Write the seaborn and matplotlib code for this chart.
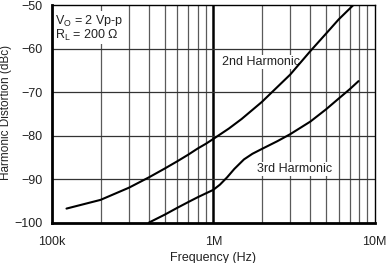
import numpy as np
import pandas as pd
import matplotlib
matplotlib.use("Agg")
import matplotlib.pyplot as plt
import seaborn as sns
from matplotlib.ticker import FixedLocator, NullFormatter

sns.set_style("white")
plt.rcParams['font.family'] = ['Liberation Sans', 'DejaVu Sans']
plt.rcParams['mathtext.fontset'] = 'custom'
plt.rcParams['mathtext.rm'] = 'Liberation Sans'

freq_h2 = [123e3, 200e3, 300e3, 400e3, 500e3, 600e3, 700e3, 800e3, 900e3, 1e6,
           1.25e6, 1.5e6, 2e6, 3e6, 4e6, 5e6, 6e6, 7.4e6]
dist_h2 = [-96.8, -94.8, -92.0, -89.6, -87.6, -85.9, -84.4, -83.0, -81.9, -80.8,
           -78.4, -76.2, -72.3, -66.0, -60.6, -56.6, -53.3, -50.0]

freq_h3 = [400e3, 500e3, 600e3, 700e3, 800e3, 900e3, 1e6, 1.1e6, 1.22e6, 1.35e6,
           1.55e6, 1.75e6, 2e6, 2.5e6, 3e6, 4e6, 5e6, 6e6, 7e6, 7.96e6]
dist_h3 = [-100.0, -98.2, -96.6, -95.3, -94.2, -93.3, -92.5, -91.3, -89.6, -87.7,
           -85.5, -84.2, -83.1, -81.3, -79.7, -76.8, -74.0, -71.5, -69.4, -67.5]

x_ticks = [1e5, 1e6, 1e7]
x_labels = ["100k", "1M", "10M"]
y_ticks = [-100, -90, -80, -70, -60, -50]

df = pd.concat([
    pd.DataFrame({"f": freq_h2, "d": dist_h2, "s": "2nd"}),
    pd.DataFrame({"f": freq_h3, "d": dist_h3, "s": "3rd"}),
])

fig = plt.figure(figsize=(3.86, 2.63), dpi=100)
ax = fig.add_axes([52 / 386, 1 - 222.5 / 263, 322.5 / 386, 217.5 / 263])

ax.set_xscale("log")
ax.set_xlim(1e5, 1e7)
ax.set_ylim(-100, -50)

# grid
minor = [m * d for d in (1e5, 1e6) for m in range(2, 10)]
for xv in minor:
    ax.axvline(xv, color="#5a5a5a", lw=0.9, zorder=1)
ax.axvline(1e6, color="black", lw=1.8, zorder=1)
for yv in y_ticks[1:-1]:
    ax.axhline(yv, color="#333333", lw=0.9, zorder=1)

sns.lineplot(data=df, x="f", y="d", units="s", estimator=None, color="black",
             lw=1.5, ax=ax, legend=False, zorder=3)

ax.xaxis.set_major_locator(FixedLocator(x_ticks))
ax.set_xticklabels(x_labels)
ax.xaxis.set_minor_locator(FixedLocator(minor))
ax.xaxis.set_minor_formatter(NullFormatter())
ax.set_yticks(y_ticks)
ax.set_yticklabels([f"\u2212{abs(v)}" for v in y_ticks])
ax.tick_params(axis="x", which="both", length=0, labelsize=9, colors="#222222", pad=10)
ax.tick_params(axis="y", which="both", length=0, labelsize=9, colors="#222222", pad=7)

for side in ("top", "right"):
    ax.spines[side].set_color("black")
    ax.spines[side].set_linewidth(1.0)
for side in ("left", "bottom"):
    ax.spines[side].set_color("black")
    ax.spines[side].set_linewidth(2.0)

ax.set_xlabel("Frequency (Hz)", fontsize=9, color="#222222")
ax.set_ylabel("Harmonic Distortion (dBc)", fontsize=8.5, color="#222222")
ax.xaxis.set_label_coords(0.5, (222.5 - 251.5) / 217.5)
ax.yaxis.set_label_coords((12.5 - 52) / 322.5, 0.505)

bbox = dict(facecolor="white", edgecolor="none", pad=1)
ax.text(1.044e5, -53.6, "V$_\\mathrm{O}$ = 2 Vp-p", fontsize=9, color="#222222",
        va="center", ha="left", bbox=bbox, zorder=2)
ax.text(1.044e5, -56.9, "R$_\\mathrm{L}$ = 200 \u03a9", fontsize=9, color="#222222",
        va="center", ha="left", bbox=bbox, zorder=2)
ax.text(1.14e6, -63.1, "2nd Harmonic", fontsize=9, color="#222222",
        va="center", ha="left", bbox=bbox, zorder=2)
ax.text(1.88e6, -87.7, "3rd Harmonic", fontsize=9, color="#222222",
        va="center", ha="left", bbox=bbox, zorder=2)

fig.savefig("out.png", dpi=100)
